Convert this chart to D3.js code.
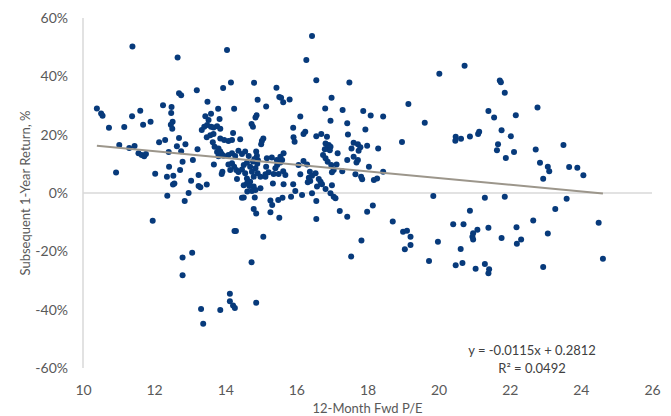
<!DOCTYPE html>
<meta charset="utf-8">
<style>
  body { margin: 0; background: #fff; }
  text { font-family: Lato, "Open Sans", sans-serif; fill: #595959; }
</style>
<body>
<script src="https://d3js.org/d3.v7.min.js"></script>
<script>

// 12-month forward P/E (x) and subsequent 1-year return in % (y)
var pe = [
  10.39,10.51,10.55,10.73,11.16,11.38,11.61,11.69,11.90,11.02,11.30,11.45,11.56,11.65,11.72,11.77,10.93,12.03,
  11.39,12.66,14.05,
  12.37,12.97,12.86,11.96,14.26,14.30,15.07,12.80,13.07,12.80,14.74,14.13,14.13,14.22,14.27,14.87,13.32,13.86,13.38,
  14.47,14.52,14.83,14.80,14.87,15.27,15.27,15.32,15.49,15.52,12.57,12.53,13.25,13.30,13.48,13.04,15.34,
  12.25,12.49,12.48,12.52,12.47,12.51,12.70,12.76,13.20,13.50,13.94,14.16,14.81,15.44,15.52,14.91,15.15,14.25,13.80,
  13.60,13.44,13.53,13.84,14.88,14.85,14.74,14.78,13.34,13.41,13.49,13.60,13.67,13.77,13.86,13.48,13.58,13.67,14.22,
  14.42,13.86,13.97,14.09,14.19,15.07,15.03,12.70,12.31,12.14,12.88,12.64,13.22,12.76,12.41,13.09,12.80,12.42,12.73,
  12.36,12.54,13.25,13.81,13.77,13.90,13.68,13.92,13.90,14.09,14.19,14.28,14.37,14.47,14.56,14.66,14.09,14.19,14.25,
  14.31,14.37,14.47,14.52,14.61,14.70,14.75,14.80,14.85,14.91,14.99,14.61,14.33,14.70,14.80,14.85,14.99,15.17,15.31,
  15.45,15.36,15.13,15.50,
  13.65,13.70,13.81,13.86,13.95,14.14,14.56,14.61,14.68,14.75,14.62,14.52,14.90,14.92,
  15.57,15.63,15.81,16.99,16.81,17.30,16.96,17.43,16.11,15.91,16.25,16.20,15.92,15.95,16.56,16.70,16.86,17.45,15.01,
  16.82,16.91,16.86,16.96,16.94,16.80,17.55,17.73,16.75,16.82,16.88,16.98,17.16,17.13,17.43,17.61,17.73,17.69,17.05,
  17.00,17.29,17.66,14.87,14.89,14.82,14.78,15.55,15.64,15.60,15.55,15.46,15.41,15.15,15.13,15.22,15.63,15.69,16.06,
  16.20,16.30,16.11,16.38,16.44,16.54,16.35,16.39,16.32,16.63,16.68,16.58,16.72,16.82,16.96,17.05,17.10,17.00,15.91,
  15.64,15.97,16.16,16.44,15.61,15.85,16.56,17.22,
  16.44,16.28,16.56,17.49,17.88,18.09,18.44,19.15,19.61,17.94,18.97,18.30,17.99,17.80,17.75,17.61,18.04,18.44,18.27,
  18.18,17.85,17.82,
  17.43,17.99,18.15,18.71,19.00,19.11,19.21,19.21,19.05,19.73,17.83,17.54,16.56,
  20.02,20.73,21.72,21.75,21.86,21.40,21.56,22.17,22.78,21.77,22.03,20.48,20.47,20.63,20.88,21.11,21.14,21.67,21.64,
  21.89,22.12,22.73,23.51,22.85,23.07,23.11,22.94,23.67,23.90,24.07,19.85,21.30,21.86,23.60,
  20.88,23.28,22.66,24.50,20.41,20.70,21.40,21.09,20.97,20.95,20.97,22.19,23.07,19.98,21.77,22.32,22.20,20.62,20.48,
  20.67,21.30,21.04,21.42,21.40,22.94,24.62
];
var ret = [
  29.0,27.3,26.5,22.4,22.6,26.3,28.2,23.4,24.4,16.5,15.4,16.1,13.6,13.0,12.6,13.4,7.0,6.6,
  50.2,46.5,49.0,
  -0.9,0.0,-2.7,-9.5,-13.0,-13.0,-15.0,-22.1,-20.5,-28.2,-23.7,-34.5,-37.1,-38.6,-39.4,-37.6,-39.8,-40.1,-44.8,
  -1.6,-1.5,-1.5,-5.5,-7.0,-6.6,-2.6,-4.1,-2.4,-8.5,3.3,2.9,2.4,2.0,2.9,4.2,3.3,
  30.1,29.5,27.4,24.4,23.4,22.0,34.2,33.5,35.2,31.3,36.0,37.9,37.8,36.1,32.9,32.0,29.7,28.9,28.9,
  27.2,26.3,25.0,25.4,26.7,25.9,23.7,22.7,21.6,22.7,23.3,22.7,22.5,22.9,22.0,19.1,19.8,20.2,20.6,
  18.4,18.7,18.2,17.8,18.2,18.7,17.8,18.9,18.2,17.4,16.7,16.0,15.0,14.3,14.1,11.3,10.7,9.0,7.9,
  5.6,5.9,6.2,12.6,14.1,13.4,9.8,7.3,6.5,13.0,13.6,12.7,14.5,13.4,14.2,12.7,9.8,10.2,9.0,
  7.9,7.2,8.1,9.6,10.4,9.0,7.3,5.6,8.5,6.8,5.6,5.0,4.8,3.9,2.2,1.0,1.6,11.9,12.2,
  11.3,6.5,5.6,6.5,
  17.4,15.9,15.3,14.2,12.8,7.9,6.8,3.3,2.4,0.7,0.5,2.7,10.0,11.2,
  32.7,31.1,32.1,32.7,29.0,28.5,24.8,23.9,26.2,22.4,21.0,20.2,19.1,17.6,19.5,20.2,19.3,20.1,16.7,
  17.0,16.5,15.3,15.9,14.7,15.0,15.3,16.7,13.0,11.9,10.7,9.6,13.6,9.8,11.3,12.4,11.3,10.5,7.9,
  7.1,7.5,6.4,14.2,12.8,11.7,10.8,12.4,13.6,11.3,10.5,9.6,8.5,9.0,6.4,7.1,7.5,6.2,9.6,
  11.0,9.8,6.4,7.3,5.9,6.8,5.2,4.1,3.7,4.8,3.9,2.2,3.0,1.4,-0.1,-1.3,-1.8,2.7,3.0,
  3.0,0.7,-0.7,-0.1,-1.6,-1.3,-2.7,-6.2,
  53.8,45.6,38.7,37.9,28.1,26.6,26.2,30.5,24.1,21.8,17.5,15.3,16.2,15.7,14.5,17.2,9.0,7.3,5.0,
  4.5,4.7,5.6,
  -8.1,-6.4,-4.3,-9.8,-13.3,-12.9,-15.0,-17.8,-19.3,-23.3,-16.3,-21.8,-8.9,
  40.9,43.6,38.6,38.0,34.4,28.1,25.9,26.7,29.3,21.5,19.5,19.3,17.9,18.6,19.4,20.2,21.0,16.7,14.7,
  12.0,14.1,14.9,16.5,10.4,9.0,7.5,4.9,8.9,8.7,6.1,-1.0,-1.6,-1.3,-2.0,
  -6.1,-5.5,-9.4,-10.2,-10.7,-10.7,-11.9,-12.6,-13.8,-15.0,-15.9,-11.7,-13.9,-16.7,-15.4,-15.9,-17.4,-19.2,-24.8,
  -24.0,-24.3,-26.0,-26.1,-27.5,-25.4,-22.5
];

var xTicks = [10, 12, 14, 16, 18, 20, 22, 24, 26];
var yTicks = [-60, -40, -20, 0, 20, 40, 60];
var slope = -0.0115, intercept = 0.2812, r2 = 0.0492;

var width = 671, height = 416;
var mLeft = 83, mRight = 652, mTop = 18, mBottom = 368;

var points = pe.map(function(d, i) { return {x: d, y: ret[i]}; });

var x = d3.scaleLinear().domain([10, 26]).range([mLeft, mRight]);
var y = d3.scaleLinear().domain([-60, 60]).range([mBottom, mTop]);

var svg = d3.select("body").append("svg")
    .attr("width", width)
    .attr("height", height);

// zero line and y axis line
svg.append("line")
    .attr("x1", mLeft).attr("x2", mRight)
    .attr("y1", y(0)).attr("y2", y(0))
    .attr("stroke", "#d9d9d9").attr("stroke-width", 1.5);
svg.append("line")
    .attr("x1", mLeft).attr("x2", mLeft)
    .attr("y1", mTop).attr("y2", mBottom)
    .attr("stroke", "#d9d9d9").attr("stroke-width", 1.5);

var yAxis = svg.append("g")
    .attr("transform", "translate(" + (mLeft - 15) + ",0)")
    .call(d3.axisLeft(y).tickValues(yTicks).tickSize(0).tickPadding(0)
      .tickFormat(function(d) { return d + "%"; }));
yAxis.select(".domain").remove();
yAxis.selectAll("text").style("font-size", "14px").style("fill", "#595959");

var xAxis = svg.append("g")
    .attr("transform", "translate(0," + (mBottom + 17) + ")")
    .call(d3.axisBottom(x).tickValues(xTicks).tickSize(0).tickPadding(0));
xAxis.select(".domain").remove();
xAxis.selectAll("text").style("font-size", "14px").style("fill", "#595959");

svg.append("text")
    .attr("x", (mLeft + mRight) / 2).attr("y", 413)
    .attr("text-anchor", "middle")
    .style("font-size", "13px")
    .text("12-Month Fwd P/E");

svg.append("text")
    .attr("transform", "translate(30," + y(0) + ") rotate(-90)")
    .attr("text-anchor", "middle")
    .style("font-size", "13px")
    .text("Subsequent 1-Year Return, %");

// dots
svg.append("g").selectAll("circle")
    .data(points)
  .enter().append("circle")
    .attr("cx", function(d) { return x(d.x); })
    .attr("cy", function(d) { return y(d.y); })
    .attr("r", 3)
    .attr("fill", "#073a7b");

// linear trendline over the data range
var ext = d3.extent(pe);
svg.append("line")
    .attr("x1", x(ext[0])).attr("y1", y(100 * (slope * ext[0] + intercept)))
    .attr("x2", x(ext[1])).attr("y2", y(100 * (slope * ext[1] + intercept)))
    .attr("stroke", "#9c968b").attr("stroke-width", 2);

svg.append("text")
    .attr("x", 532).attr("y", 355)
    .attr("text-anchor", "middle")
    .style("font-size", "13px")
    .style("fill", "#404040")
    .text("y = " + slope + "x + " + intercept);
svg.append("text")
    .attr("x", 532).attr("y", 373)
    .attr("text-anchor", "middle")
    .style("font-size", "13px")
    .style("fill", "#404040")
    .text("R\u00b2 = " + r2);
</script>
</body>
